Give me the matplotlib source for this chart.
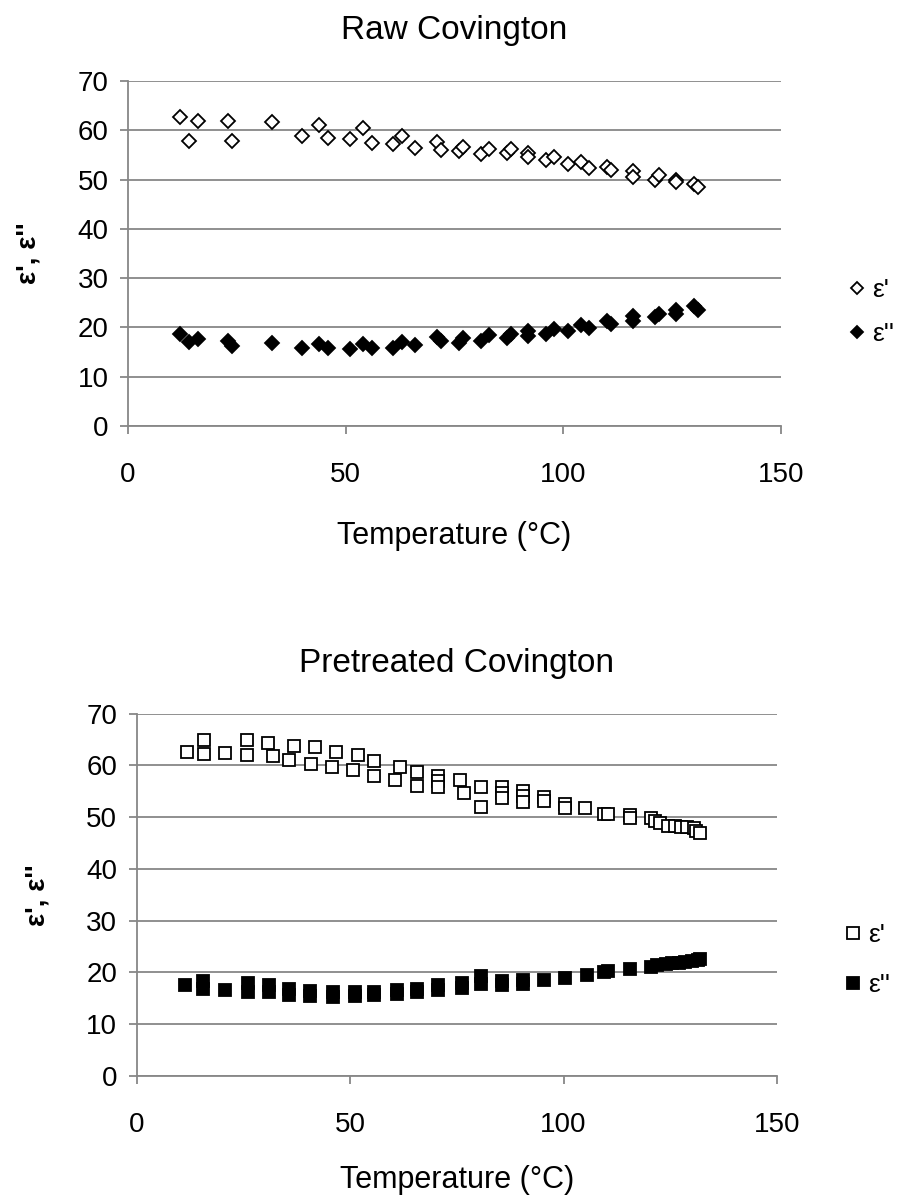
import matplotlib
matplotlib.use("Agg")
import matplotlib.pyplot as plt
from matplotlib.lines import Line2D

plt.rcParams['font.family'] = ['Liberation Sans', 'DejaVu Sans']

# Raw Covington: temperature (C) and permittivity readings
raw_temp = [12, 14, 16, 23, 24, 33, 40, 44, 46, 51, 54, 56, 61, 63, 66, 71, 72, 76, 77, 81,
            83, 87, 88, 92, 92, 96, 98, 101, 104, 106, 110, 111, 116, 116, 121, 122, 126, 126, 130, 131]
raw_eps1 = [62.7, 57.8, 61.8, 61.8, 57.9, 61.6, 58.8, 61.1, 58.5, 58.2, 60.5, 57.5, 57.3, 58.9, 56.5,
            57.7, 56.0, 55.8, 56.6, 55.1, 56.1, 55.3, 56.2, 55.3, 54.6, 53.9, 54.6, 53.2, 53.6, 52.4,
            52.6, 51.9, 51.8, 50.6, 50.0, 50.9, 49.9, 49.5, 49.1, 48.4]
raw_eps2 = [18.6, 17.1, 17.6, 17.2, 16.2, 16.9, 15.9, 16.6, 15.8, 15.7, 16.6, 15.8, 15.9, 17.0, 16.4,
            18.0, 17.2, 16.9, 17.9, 17.2, 18.4, 17.9, 18.7, 18.2, 19.2, 18.7, 19.6, 19.3, 20.5, 19.8,
            21.4, 20.6, 22.3, 21.3, 22.2, 22.8, 22.8, 23.6, 24.3, 23.6]

# Pretreated Covington
pre_temp1 = [11.8, 15.9, 15.9, 20.8, 25.9, 25.9, 30.8, 31.9, 36.8, 35.8, 41.9, 40.8, 46.7, 45.8, 51.8,
             50.8, 55.7, 55.7, 61.8, 60.6, 65.8, 65.8, 70.7, 70.7, 70.7, 75.8, 76.6, 80.7, 80.7, 85.6,
             85.6, 85.6, 90.5, 90.5, 90.5, 95.5, 95.5, 100.4, 100.4, 105.1, 109.5, 110.5, 115.6, 115.6,
             120.5, 121.5, 122.5, 124.5, 126, 127.5, 129, 130.5, 131, 132]
pre_eps1 = [62.5, 64.8, 62.2, 62.4, 64.8, 61.9, 64.3, 61.8, 63.8, 61.1, 63.5, 60.3, 62.5, 59.6, 61.9,
            59.0, 60.9, 58.0, 59.6, 57.1, 58.7, 56.1, 58.0, 56.9, 55.9, 57.1, 54.6, 55.9, 51.9, 55.8,
            54.6, 53.6, 55.0, 54.0, 53.0, 53.8, 53.2, 52.6, 51.8, 51.8, 50.6, 50.6, 50.4, 49.8,
            49.8, 49.2, 48.9, 48.3, 48.2, 48.1, 48.0, 47.8, 47.3, 46.9]
pre_temp2 = [11.4, 15.5, 15.5, 20.8, 26.0, 26.0, 31.1, 31.1, 35.8, 35.8, 40.7, 40.7, 46.0, 46.0, 51.1,
             51.1, 55.5, 55.5, 61.0, 61.0, 65.7, 65.7, 70.7, 70.7, 76.2, 76.2, 80.7, 80.7, 85.6, 85.6,
             90.5, 90.5, 95.5, 100.4, 105.5, 109.5, 110.5, 115.5, 120.5, 122, 124, 125.5, 127, 128.5,
             130, 131.5, 132]
pre_eps2 = [17.5, 18.3, 16.9, 16.6, 18.0, 16.3, 17.5, 16.2, 16.8, 15.6, 16.5, 15.4, 16.2, 15.3, 16.3,
            15.4, 16.3, 15.6, 16.6, 15.8, 16.9, 16.3, 17.5, 16.7, 17.9, 17.0, 19.4, 17.8, 18.3, 17.5,
            18.5, 17.8, 18.5, 19.0, 19.5, 20.0, 20.3, 20.6, 21.1, 21.4, 21.6, 21.8, 21.9, 22.1,
            22.3, 22.5, 22.6]

labels = ["ε'", "ε''"]
GRAY = '#878787'


def style_axes(ax, title, xpad):
    ax.set_xlim(0, 150)
    ax.set_ylim(0, 70)
    ax.set_xticks([0, 50, 100, 150])
    ax.set_yticks(range(0, 71, 10))
    ax.grid(axis='y', color=GRAY, lw=1.3)
    ax.grid(axis='x', visible=False)
    ax.set_axisbelow(True)
    for s in ['top', 'right']:
        ax.spines[s].set_visible(False)
    for s in ['left', 'bottom']:
        ax.spines[s].set_color(GRAY)
        ax.spines[s].set_linewidth(1.3)
    ax.tick_params(direction='out', length=6, width=1.3, color=GRAY, labelsize=20)
    ax.tick_params(axis='x', pad=20)
    ax.tick_params(axis='y', pad=8)
    ax.set_title(title, fontsize=24, pad=30)
    ax.set_xlabel('Temperature (°C)', fontsize=22, labelpad=xpad)
    ax.set_ylabel("ε', ε''", fontsize=20, fontweight='bold')


fig = plt.figure(figsize=(9.03, 11.98), dpi=100)

# top chart
ax1 = fig.add_axes([0.1417, 0.6444, 0.7230, 0.2880])
ax1.plot(raw_temp, raw_eps1, ls='none', marker='D', ms=6.8, mfc='white', mec='black', mew=1.3)
ax1.plot(raw_temp, raw_eps2, ls='none', marker='D', ms=6.8, mfc='black', mec='black', mew=1.3)
style_axes(ax1, 'Raw Covington', 24)
ax1.yaxis.set_label_coords(-0.132, 0.5)
h1 = [Line2D([], [], ls='none', marker='D', ms=6.5, mfc='white', mec='black', mew=1.3),
      Line2D([], [], ls='none', marker='D', ms=6.5, mfc='black', mec='black', mew=1.3)]
ax1.legend(h1, labels, loc='center left', bbox_to_anchor=(1.089, 0.33), frameon=False,
           fontsize=19, handlelength=0.6, handletextpad=0.25, labelspacing=0.75, borderaxespad=0)

# bottom chart
ax2 = fig.add_axes([0.1512, 0.1018, 0.7093, 0.3026])
ax2.plot(pre_temp1, pre_eps1, ls='none', marker='s', ms=9.2, mfc='white', mec='black', mew=1.3)
ax2.plot(pre_temp2, pre_eps2, ls='none', marker='s', ms=9.2, mfc='black', mec='black', mew=1.3)
style_axes(ax2, 'Pretreated Covington', 19)
ax2.yaxis.set_label_coords(-0.135, 0.5)
h2 = [Line2D([], [], ls='none', marker='s', ms=9, mfc='white', mec='black', mew=1.3),
      Line2D([], [], ls='none', marker='s', ms=9, mfc='black', mec='black', mew=1.3)]
ax2.legend(h2, labels, loc='center left', bbox_to_anchor=(1.09, 0.32), frameon=False,
           fontsize=19, handlelength=0.6, handletextpad=0.25, labelspacing=1.0, borderaxespad=0)

fig.savefig('out.png', dpi=100)
